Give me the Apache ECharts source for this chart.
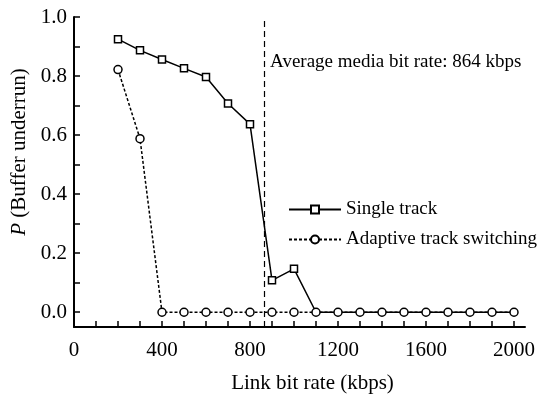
<!DOCTYPE html>
<html>
<head>
<meta charset="utf-8">
<script src="https://cdn.jsdelivr.net/npm/echarts@6/dist/echarts.min.js"></script>
<style>
  html, body { margin: 0; padding: 0; background: #fff; }
  #chart { width: 544px; height: 400px; }
</style>
</head>
<body>
<div id="chart"></div>
<script>
  // link bit rate (kbps)
  var linkRates = [200, 300, 400, 500, 600, 700, 800, 900, 1000, 1100, 1200, 1300, 1400, 1500, 1600, 1700, 1800, 1900, 2000]
  var singleTrack = [0.925, 0.887, 0.856, 0.826, 0.797, 0.707, 0.637, 0.108, 0.147, 0, 0, 0, 0, 0, 0, 0, 0, 0, 0]
  var adaptiveSwitching = [0.822, 0.588, 0, 0, 0, 0, 0, 0, 0, 0, 0, 0, 0, 0, 0, 0, 0, 0, 0]
  var avgMediaRate = 864
  var xTicks = [0, 100, 200, 300, 400, 500, 600, 700, 800, 900, 1000, 1100, 1200, 1300, 1400, 1500, 1600, 1700, 1800, 1900, 2000]
  var xLabels = [0, 400, 800, 1200, 1600, 2000]
  var yTicks = [0, 0.1, 0.2, 0.3, 0.4, 0.5, 0.6, 0.7, 0.8, 0.9, 1.0]
  var yLabels = [0, 0.2, 0.4, 0.6, 0.8, 1.0]

  var font = '"Liberation Serif", "Times New Roman", serif'

  // squares are hidden where the circles of the other series sit on top
  var singleData = linkRates.map(function (x, i) {
    var item = { value: [x, singleTrack[i]] }
    if (singleTrack[i] === 0 && adaptiveSwitching[i] === 0) item.symbol = 'none'
    return item
  })
  var adaptiveData = linkRates.map(function (x, i) { return [x, adaptiveSwitching[i]] })

  var chart = echarts.init(document.getElementById('chart'))
  chart.setOption({
    animation: false,
    textStyle: { fontFamily: font, color: '#000' },
    grid: { left: 74, right: 19, top: 17, bottom: 73 },
    legend: {
      left: 283,
      top: 195,
      orient: 'vertical',
      itemWidth: 52,
      itemHeight: 10,
      itemGap: 11,
      textStyle: { fontFamily: font, fontSize: 19, color: '#000' },
      data: ['Single track', 'Adaptive track switching']
    },
    xAxis: {
      type: 'value',
      min: 0,
      max: 2050,
      name: 'Link bit rate (kbps)',
      nameLocation: 'middle',
      nameGap: 46,
      nameTextStyle: { fontFamily: font, fontSize: 21, color: '#000', padding: [0, 0, 0, 26] },
      axisLine: { onZero: false, lineStyle: { color: '#000', width: 2 } },
      axisTick: { inside: true, length: 6, lineStyle: { color: '#000', width: 1.5 }, customValues: xTicks },
      axisLabel: {
        fontFamily: font, fontSize: 21, color: '#000', margin: 13,
        customValues: xLabels,
        formatter: function (v) { return String(v) }
      },
      splitLine: { show: false }
    },
    yAxis: {
      type: 'value',
      min: -0.05,
      max: 1.0,
      name: '{i|P} (Buffer underrun)',
      nameLocation: 'middle',
      nameGap: 43,
      nameTextStyle: {
        fontFamily: font, fontSize: 21, color: '#000', padding: [0, 0, 0, 40],
        rich: { i: { fontFamily: font, fontSize: 21, fontStyle: 'italic', color: '#000' } }
      },
      axisLine: { lineStyle: { color: '#000', width: 2 } },
      axisTick: { inside: true, length: 6, lineStyle: { color: '#000', width: 1.5 }, customValues: yTicks },
      axisLabel: {
        fontFamily: font, fontSize: 21, color: '#000', margin: 7,
        customValues: yLabels,
        formatter: function (v) { return v.toFixed(1) }
      },
      splitLine: { show: false }
    },
    series: [
      {
        name: 'Single track',
        type: 'line',
        data: singleData,
        symbol: 'rect',
        symbolSize: 7,
        showAllSymbol: true,
        lineStyle: { color: '#000', width: 1.5 },
        itemStyle: { color: '#fff', borderColor: '#000', borderWidth: 1.5 },
        z: 2,
        markLine: {
          silent: true,
          symbol: 'none',
          label: { show: false },
          lineStyle: { color: '#000', type: [6, 4], width: 1.2 },
          data: [{ xAxis: avgMediaRate }]
        },
        markPoint: {
          silent: true,
          symbol: 'circle',
          symbolSize: 0,
          label: {
            show: true,
            position: 'right',
            distance: 6,
            fontFamily: font,
            fontSize: 19,
            color: '#000',
            formatter: 'Average media bit rate: ' + avgMediaRate + ' kbps'
          },
          data: [{ coord: [avgMediaRate, 0.847] }]
        }
      },
      {
        name: 'Adaptive track switching',
        type: 'line',
        data: adaptiveData,
        symbol: 'circle',
        symbolSize: 8,
        showAllSymbol: true,
        lineStyle: { color: '#000', width: 1.5, type: [3, 2] },
        itemStyle: { color: '#fff', borderColor: '#000', borderWidth: 1.5 },
        z: 3
      }
    ]
  })
</script>
</body>
</html>
